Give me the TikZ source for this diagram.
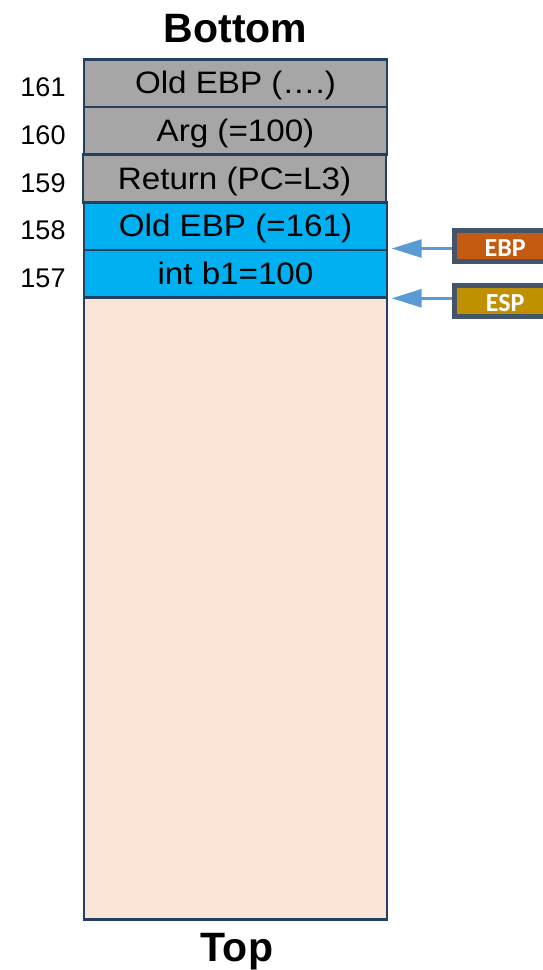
\documentclass[tikz,border=0pt]{standalone}
\usepackage{fontspec}
\setmainfont{Liberation Sans}
\newfontfamily\tagfont{Carlito}
\usetikzlibrary{arrows.meta}

\definecolor{framec}{HTML}{243F60}
\definecolor{savedc}{HTML}{A6A6A6}
\definecolor{framefill}{HTML}{00B0F0}
\definecolor{freec}{HTML}{FBE5D6}
\definecolor{slatec}{HTML}{44546A}
\definecolor{ebpc}{HTML}{C55A11}
\definecolor{espc}{HTML}{BF9000}
\definecolor{arrowc}{HTML}{5B9BD5}

\tikzset{
  slot/.style={draw=framec, line width=2.6pt, minimum width=303pt,
    minimum height=47.65pt, inner sep=0pt, text height=22pt, text depth=1pt,
    font=\fontsize{31}{31}\selectfont},
  addr/.style={anchor=base, font=\fontsize{27}{27}\selectfont},
  heading/.style={anchor=base, font=\bfseries\fontsize{41}{41}\selectfont},
  regbox/.style={draw=slatec, line width=4.5pt, minimum width=101.5pt,
    minimum height=31pt, inner sep=0pt, anchor=west, text=white,
    text height=21pt, text depth=0pt,
    font=\tagfont\bfseries\fontsize{26}{26}\selectfont},
  pointer/.style={draw=arrowc, line width=2.7pt,
    -{Triangle[length=30pt,width=18pt]}}
}

\newcommand{\wide}[1]{\scalebox{1.07}[1]{#1}}

\begin{document}
\begin{tikzpicture}[x=1pt,y=-1pt]
  \useasboundingbox (0,0) rectangle (543,970);
  \clip (0,0) rectangle (543,970);

  % headings
  \node[heading] (bottom) at (235.5,42) {Bottom};
  \node[heading] (top) at (237,961.5) {Top};

  % unused stack space
  \node[slot, fill=freec, minimum height=621.75pt] (free) at (235.5,608.6) {};

  % stack slots
  \node[slot, fill=savedc] (s161) at (235.5,83.3) {\wide{Old EBP (….)}};
  \node[slot, fill=savedc] (s160) at (235.5,131.0) {\wide{Arg (=100)}};
  \node[slot, fill=savedc] (s159) at (234.5,178.6) {\wide{Return (PC=L3)}};
  \node[slot, fill=framefill] (s158) at (235.5,226.3) {\wide{Old EBP (=161)}};
  \node[slot, fill=framefill] (s157) at (235.5,273.9) {\wide{int b1=100}};

  % addresses
  \node[addr] (a161) at (43,96.8) {161};
  \node[addr] (a160) at (43,144.5) {160};
  \node[addr] (a159) at (43,192.1) {159};
  \node[addr] (a158) at (43,239.8) {158};
  \node[addr] (a157) at (43,287.4) {157};

  % registers
  \node[regbox, fill=ebpc] (ebp) at (452.25,245.8) {EBP};
  \node[regbox, fill=espc] (esp) at (452.25,301.2) {ESP};

  \coordinate (ebptip) at (391.7,248.5);
  \coordinate (esptip) at (391.7,298.3);
  \draw[pointer] (ebp.west |- ebptip) -- (ebptip);
  \draw[pointer] (esp.west |- esptip) -- (esptip);
\end{tikzpicture}
\end{document}
